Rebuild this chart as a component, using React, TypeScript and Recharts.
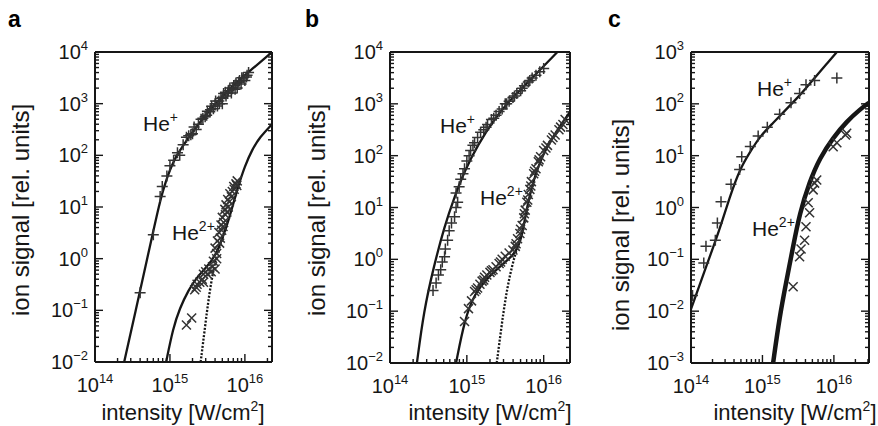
import { ComposedChart, Line, Scatter, XAxis, YAxis } from "recharts";

const FONT = '"Liberation Sans", Arial, Helvetica, sans-serif';
const INK = "#161616";
const MARK = "#333333";

// axis decades
const X_TICKS = [1e14, 1e15, 1e16];
const Y_TICKS_AB = [1e-2, 1e-1, 1e0, 1e1, 1e2, 1e3, 1e4];
const Y_TICKS_C = [1e-3, 1e-2, 1e-1, 1e0, 1e1, 1e2, 1e3];

// ---------- panel a ----------
const A_HE1_FIT_I = [2.45e14, 3.55e14, 5.0e14, 6.3e14, 7.08e14, 7.94e14, 8.91e14, 1.0e15, 1.12e15, 1.26e15, 1.66e15, 2.45e15, 3.63e15, 6.6e15, 1.2e16, 2.3e16];
const A_HE1_FIT_S = [0.01, 0.11, 1.05, 4.7, 10, 19, 33, 52, 76, 105, 195, 417, 850, 2090, 4470, 10000];
const A_HE2_FIT_I = [8.9e14, 1.1e15, 1.35e15, 1.78e15, 2.24e15, 3.16e15, 4.0e15, 5.0e15, 6.3e15, 7.9e15, 1.0e16, 1.26e16, 1.58e16, 2.3e16];
const A_HE2_FIT_S = [0.01, 0.045, 0.11, 0.25, 0.42, 0.71, 1.12, 2.4, 6.6, 22, 63, 132, 224, 400];
const A_HE2_SEQ_I = [2.57e15, 2.95e15, 3.3e15, 3.8e15, 4.4e15, 5.0e15, 5.6e15];
const A_HE2_SEQ_S = [0.01, 0.05, 0.18, 0.63, 1.4, 2.4, 4.5];
const A_HE1_DATA_I = [4.0e14, 6.0e14, 7.4e14, 7.9e14, 9.1e14, 1.0e15, 1.12e15, 1.26e15, 1.35e15, 1.5e15, 1.66e15, 1.9e15, 2.1e15, 2.4e15, 2.6e15, 2.95e15, 3.16e15, 3.4e15, 3.6e15, 3.8e15, 4.0e15, 4.3e15, 4.5e15, 4.8e15, 5.0e15, 5.2e15, 5.6e15, 6.0e15, 6.3e15, 6.6e15, 7.1e15, 7.6e15, 7.9e15, 8.5e15, 9.1e15, 1.0e16, 1.07e16, 1.12e16, 1.78e15, 2.0e15, 2.24e15, 2.75e15, 3.09e15, 3.47e15, 4.07e15, 4.57e15, 5.0e15, 5.5e15, 5.9e15, 6.9e15, 7.4e15, 8.3e15, 8.9e15, 9.5e15, 1.05e16];
const A_HE1_DATA_S = [0.22, 2.9, 16, 25, 40, 63, 80, 112, 100, 160, 224, 250, 355, 400, 500, 560, 710, 700, 890, 800, 1000, 900, 1120, 1260, 1000, 1580, 1400, 1780, 2000, 1600, 2240, 2500, 2000, 2800, 3160, 2800, 3550, 4000, 240, 263, 316, 525, 600, 760, 1120, 1000, 1320, 1660, 1580, 2000, 1900, 2630, 2400, 3160, 3300];
const A_HE2_DATA_I = [1.66e15, 1.95e15, 2.14e15, 2.3e15, 2.5e15, 2.7e15, 2.8e15, 3.0e15, 3.16e15, 3.3e15, 3.55e15, 3.7e15, 4.0e15, 4.2e15, 4.0e15, 4.3e15, 4.5e15, 4.7e15, 4.8e15, 5.0e15, 5.2e15, 5.4e15, 5.6e15, 5.9e15, 6.0e15, 6.3e15, 6.8e15, 7.1e15, 7.6e15, 7.9e15, 3.8e15, 4.2e15, 4.6e15, 4.9e15, 5.1e15, 5.5e15, 5.75e15, 6.2e15, 6.6e15, 7.2e15, 7.8e15, 2.8e15, 2.24e15];
const A_HE2_DATA_S = [0.052, 0.071, 0.25, 0.32, 0.35, 0.4, 0.5, 0.56, 0.5, 0.63, 0.56, 0.7, 0.63, 1.0, 1.6, 2.2, 3.2, 2.5, 4.5, 6.3, 5.0, 9, 11, 14, 10, 18, 20, 25, 28, 32, 0.89, 1.26, 2.0, 3.55, 4.2, 7.1, 8, 12.6, 15.8, 22, 26, 0.35, 0.28];

// ---------- panel b ----------
const B_HE1_FIT_I = [2.24e14, 2.75e14, 3.7e14, 5.1e14, 6.9e14, 9.3e14, 1.38e15, 2.3e15, 3.55e15, 5.6e15, 8.9e15, 1.51e16];
const B_HE1_FIT_S = [0.01, 0.1, 0.71, 4.3, 16, 50, 158, 525, 1120, 2240, 4470, 10000];
const B_HE2_FIT_I = [7.24e14, 9.33e14, 1.26e15, 1.9e15, 3.16e15, 3.98e15, 4.68e15, 5.25e15, 5.75e15, 6.92e15, 9.33e15, 1.41e16, 2.2e16];
const B_HE2_FIT_S = [0.01, 0.068, 0.22, 0.46, 0.89, 1.2, 1.74, 3.0, 6.6, 25, 95, 275, 700];
const B_HE2_SEQ_I = [2.45e15, 2.82e15, 3.16e15, 3.63e15, 4.17e15, 4.79e15, 5.5e15];
const B_HE2_SEQ_S = [0.01, 0.05, 0.166, 0.5, 1.12, 2.24, 5.0];
const B_HE1_DATA_I = [3.63e14, 3.98e14, 4.27e14, 4.57e14, 4.79e14, 5.13e14, 5.25e14, 5.62e14, 5.89e14, 6.31e14, 6.92e14, 7.24e14, 7.59e14, 7.24e14, 7.94e14, 8.32e14, 8.91e14, 9.33e14, 1.0e15, 1.07e15, 1.12e15, 1.2e15, 1.26e15, 1.38e15, 1.51e15, 1.66e15, 1.86e15, 2.09e15, 2.4e15, 2.63e15, 2.88e15, 3.16e15, 3.55e15, 3.98e15, 4.47e15, 5.01e15, 5.62e15, 6.31e15, 7.08e15, 7.94e15, 1.78e15, 2.24e15, 3.3e15, 4.17e15, 5.25e15, 6.6e15, 8.9e15, 1.0e16];
const B_HE1_DATA_S = [0.25, 0.35, 0.5, 0.63, 0.89, 1.12, 1.58, 2.34, 3.55, 5.0, 6.6, 10, 12.6, 19, 25, 35, 45, 56, 79, 100, 126, 158, 178, 224, 282, 316, 398, 501, 603, 708, 794, 1000, 1120, 1320, 1580, 1780, 2240, 2630, 3160, 3550, 355, 525, 1000, 1410, 2000, 2820, 4170, 4790];
const B_HE2_DATA_I = [9.33e14, 1.05e15, 1.15e15, 1.26e15, 1.38e15, 1.48e15, 1.58e15, 1.7e15, 1.82e15, 2.0e15, 2.19e15, 2.4e15, 2.63e15, 2.88e15, 3.16e15, 3.55e15, 3.98e15, 4.27e15, 4.57e15, 4.9e15, 5.25e15, 5.5e15, 5.75e15, 6.03e15, 6.31e15, 6.61e15, 6.92e15, 7.41e15, 7.94e15, 8.51e15, 9.12e15, 1.0e16, 1.12e16, 1.26e16, 1.41e16, 1.58e16, 1.78e16, 4.37e15, 5.0e15, 5.6e15, 6.2e15, 6.8e15, 7.6e15, 8.7e15, 1.07e16, 1.32e16, 1.66e16, 1.9e16, 1.32e15, 1.66e15, 2.09e15, 2.75e15];
const B_HE2_DATA_S = [0.063, 0.112, 0.158, 0.24, 0.28, 0.33, 0.38, 0.45, 0.5, 0.56, 0.63, 0.72, 0.83, 1.0, 1.15, 1.32, 1.51, 1.78, 2.5, 3.16, 4.5, 6.3, 8.9, 12.6, 17.8, 22.4, 31.6, 44.7, 56, 76, 95, 126, 158, 200, 251, 316, 398, 2.0, 3.8, 7.6, 14, 26, 50, 83, 141, 224, 355, 500, 0.26, 0.4, 0.6, 0.89];

// ---------- panel c ----------
const C_HE1_FIT_I = [1.0e14, 1.62e14, 2.51e14, 3.47e14, 4.79e14, 6.76e14, 9.33e14, 1.41e15, 2.0e15, 3.02e15, 4.17e15, 5.75e15, 7.94e15, 1.1e16];
const C_HE1_FIT_S = [0.011, 0.071, 0.37, 1.58, 5.4, 12, 24, 42.7, 70.8, 126, 209, 355, 589, 1000];
const C_HE2_FIT_I = [1.41e15, 1.74e15, 2.14e15, 2.69e15, 3.31e15, 4.57e15, 6.31e15, 9.77e15, 1.51e16, 2.34e16, 3.1e16];
const C_HE2_FIT_S = [0.001, 0.0079, 0.035, 0.178, 0.76, 3.16, 8.9, 22.4, 45.7, 79, 105];
const C_HE1_DATA_I = [1.05e14, 1.51e14, 1.62e14, 2.19e14, 2.34e14, 2.63e14, 3.63e14, 4.79e14, 5.13e14, 6.76e14, 8.71e14, 1.17e15, 1.74e15, 2.51e15, 3.31e15, 4.07e15, 5.37e15, 1.1e16];
const C_HE1_DATA_S = [0.02, 0.085, 0.178, 0.234, 0.5, 1.29, 2.82, 5.4, 9.5, 15.1, 24, 35.5, 63, 105, 158, 234, 282, 316];
const C_HE2_DATA_I = [2.69e15, 3.31e15, 3.47e15, 3.89e15, 4.07e15, 4.37e15, 4.57e15, 5.13e15, 5.37e15, 5.75e15, 9.77e15, 1.1e16, 1.45e16, 1.51e16];
const C_HE2_DATA_S = [0.0295, 0.112, 0.158, 0.234, 0.427, 1.23, 0.79, 2.19, 2.95, 3.39, 14.8, 17.8, 25, 27];

const zip = (i: number[], s: number[]) => i.map((v, k) => ({ i: v, s: s[k] }));

const isMajor = (v: number) => Math.abs(Math.log10(v) - Math.round(Math.log10(v))) < 1e-6;
const expText = (v: number) => {
  const e = Math.round(Math.log10(v));
  return e < 0 ? "\u2212" + -e : String(e);
};

// decade ticks plus the 2..9 minor ticks that fall inside the domain
const withMinors = (majors: number[], lo: number, hi: number) => {
  const out: number[] = [];
  const first = majors[0] / 10;
  [first, ...majors].forEach((m) => {
    for (let k = 1; k < 10; k++) {
      const v = m * k;
      if (v >= lo * 0.999 && v <= hi * 1.001) out.push(v);
    }
  });
  return out;
};

const LeftTick = (p: any) => {
  const { x, y, payload } = p;
  const major = isMajor(payload.value);
  return (
    <g>
      <line x1={x} x2={x + (major ? 8 : 4)} y1={y} y2={y} stroke={INK} strokeWidth={1.4} />
      {major && (
        <text x={x - 7} y={y + 7} textAnchor="end" fontSize={20} fill={INK} fontFamily={FONT}>
          10
          <tspan dy={-9} fontSize={13}>
            {expText(payload.value)}
          </tspan>
        </text>
      )}
    </g>
  );
};

const RightTick = (p: any) => {
  const { x, y, payload } = p;
  const major = isMajor(payload.value);
  return <line x1={x} x2={x - (major ? 8 : 4)} y1={y} y2={y} stroke={INK} strokeWidth={1.4} />;
};

const BottomTick = (p: any) => {
  const { x, y, payload } = p;
  const major = isMajor(payload.value);
  return (
    <g>
      <line x1={x} x2={x} y1={y} y2={y - (major ? 8 : 4)} stroke={INK} strokeWidth={1.4} />
      {major && (
        <text x={x} y={y + 30} textAnchor="middle" fontSize={20} fill={INK} fontFamily={FONT}>
          10
          <tspan dy={-9} fontSize={13}>
            {expText(payload.value)}
          </tspan>
        </text>
      )}
    </g>
  );
};

const TopTick = (p: any) => {
  const { x, y, payload } = p;
  const major = isMajor(payload.value);
  return <line x1={x} x2={x} y1={y} y2={y + (major ? 8 : 4)} stroke={INK} strokeWidth={1.4} />;
};

const PlusMark = (p: any) => (
  <path d={`M${p.cx - 5.5},${p.cy}h11M${p.cx},${p.cy - 5.5}v11`} stroke={MARK} strokeWidth={1.5} fill="none" />
);
const CrossMark = (p: any) => (
  <path d={`M${p.cx - 4.5},${p.cy - 4.5}l9,9M${p.cx - 4.5},${p.cy + 4.5}l9,-9`} stroke={MARK} strokeWidth={1.5} fill="none" />
);

type Fit = { data: { i: number; s: number }[]; dotted?: boolean; width?: number };

type PanelProps = {
  left: number;
  width: number;
  box: { x0: number; x1: number; y0: number; y1: number };
  xDomain: [number, number];
  yDomain: [number, number];
  yTicks: number[];
  fits: Fit[];
  plus: { i: number; s: number }[];
  cross: { i: number; s: number }[];
};

function Panel({ left, width, box, xDomain, yDomain, yTicks, fits, plus, cross }: PanelProps) {
  const xt = withMinors(X_TICKS, xDomain[0], xDomain[1]);
  const yt = withMinors(yTicks, yDomain[0], yDomain[1]);
  const axisLine = { stroke: INK, strokeWidth: 2 };
  // axes are 1px thick (a 0px axis is not drawn), so the margins give way by 1px
  const margin = {
    top: box.y0 - 1,
    bottom: 426 - box.y1 - 1,
    left: box.x0 - left - 1,
    right: left + width - box.x1 - 1,
  };
  return (
    <div style={{ position: "absolute", left, top: 0, width, height: 426 }}>
      <ComposedChart width={width} height={426} margin={margin}>
        <XAxis
          xAxisId="b"
          dataKey="i"
          type="number"
          scale="log"
          domain={xDomain}
          allowDataOverflow
          ticks={xt}
          interval={0}
          height={1}
          tickSize={0}
          tickMargin={0}
          tickLine={false}
          axisLine={axisLine}
          tick={BottomTick}
        />
        <XAxis
          xAxisId="t"
          orientation="top"
          type="number"
          scale="log"
          domain={xDomain}
          allowDataOverflow
          ticks={xt}
          interval={0}
          height={1}
          tickSize={0}
          tickMargin={0}
          tickLine={false}
          axisLine={axisLine}
          tick={TopTick}
        />
        <YAxis
          yAxisId="l"
          dataKey="s"
          type="number"
          scale="log"
          domain={yDomain}
          allowDataOverflow
          ticks={yt}
          interval={0}
          width={1}
          tickSize={0}
          tickMargin={0}
          tickLine={false}
          axisLine={axisLine}
          tick={LeftTick}
        />
        <YAxis
          yAxisId="r"
          orientation="right"
          type="number"
          scale="log"
          domain={yDomain}
          allowDataOverflow
          ticks={yt}
          interval={0}
          width={1}
          tickSize={0}
          tickMargin={0}
          tickLine={false}
          axisLine={axisLine}
          tick={RightTick}
        />
        <Scatter xAxisId="b" yAxisId="l" data={plus} shape={PlusMark} isAnimationActive={false} />
        <Scatter xAxisId="b" yAxisId="l" data={cross} shape={CrossMark} isAnimationActive={false} />
        {fits.map((f, k) => (
          <Line
            key={k}
            xAxisId="b"
            yAxisId="l"
            data={f.data}
            dataKey="s"
            type="basis"
            dot={false}
            stroke={INK}
            strokeWidth={f.width ?? 2.3}
            strokeDasharray={f.dotted ? "2 1.6" : undefined}
            isAnimationActive={false}
          />
        ))}
      </ComposedChart>
    </div>
  );
}

const Sup = ({ x, y, base, sup, size = 21 }: { x: number; y: number; base: string; sup: string; size?: number }) => (
  <text x={x} y={y} fontSize={size} fill={INK} fontFamily={FONT}>
    {base}
    <tspan dy={-9} fontSize={Math.round(size * 0.65)}>
      {sup}
    </tspan>
  </text>
);

export default function App() {
  const letters = [
    { t: "a", x: 8 },
    { t: "b", x: 305 },
    { t: "c", x: 608 },
  ];
  const yLabels = [
    { x: 21, y: 210 },
    { x: 317, y: 210 },
    { x: 621, y: 225 },
  ];
  const xLabels = [183, 490, 795];
  return (
    <div style={{ position: "absolute", left: 0, top: 0, width: 878, height: 426, background: "#fff" }}>
      <Panel
        left={0}
        width={290}
        box={{ x0: 95, x1: 272, y0: 52, y1: 362 }}
        xDomain={[1e14, 2.3e16]}
        yDomain={[1e-2, 1e4]}
        yTicks={Y_TICKS_AB}
        fits={[
          { data: zip(A_HE1_FIT_I, A_HE1_FIT_S) },
          { data: zip(A_HE2_FIT_I, A_HE2_FIT_S) },
          { data: zip(A_HE2_SEQ_I, A_HE2_SEQ_S), dotted: true },
        ]}
        plus={zip(A_HE1_DATA_I, A_HE1_DATA_S)}
        cross={zip(A_HE2_DATA_I, A_HE2_DATA_S)}
      />
      <Panel
        left={293}
        width={290}
        box={{ x0: 390, x1: 570, y0: 52, y1: 363 }}
        xDomain={[1e14, 2.2e16]}
        yDomain={[1e-2, 1e4]}
        yTicks={Y_TICKS_AB}
        fits={[
          { data: zip(B_HE1_FIT_I, B_HE1_FIT_S) },
          { data: zip(B_HE2_FIT_I, B_HE2_FIT_S) },
          { data: zip(B_HE2_SEQ_I, B_HE2_SEQ_S), dotted: true },
        ]}
        plus={zip(B_HE1_DATA_I, B_HE1_DATA_S)}
        cross={zip(B_HE2_DATA_I, B_HE2_DATA_S)}
      />
      <Panel
        left={586}
        width={292}
        box={{ x0: 691, x1: 869, y0: 52, y1: 363 }}
        xDomain={[1e14, 3.1e16]}
        yDomain={[1e-3, 1e3]}
        yTicks={Y_TICKS_C}
        fits={[
          { data: zip(C_HE1_FIT_I, C_HE1_FIT_S) },
          { data: zip(C_HE2_FIT_I, C_HE2_FIT_S), width: 4.5 },
        ]}
        plus={zip(C_HE1_DATA_I, C_HE1_DATA_S)}
        cross={zip(C_HE2_DATA_I, C_HE2_DATA_S)}
      />
      <svg width={878} height={426} style={{ position: "absolute", left: 0, top: 0, pointerEvents: "none" }}>
        {letters.map((l) => (
          <text key={l.t} x={l.x} y={27} fontSize={23} fontWeight="bold" fill="#000" fontFamily={FONT}>
            {l.t}
          </text>
        ))}
        {yLabels.map((p, k) => (
          <text
            key={k}
            transform={`translate(${p.x + 8}, ${p.y}) rotate(-90)`}
            textAnchor="middle"
            fontSize={24}
            fill={INK}
            fontFamily={FONT}
          >
            ion signal [rel. units]
          </text>
        ))}
        {xLabels.map((cx, k) => (
          <text key={k} x={cx} y={420} textAnchor="middle" fontSize={22} fill={INK} fontFamily={FONT}>
            intensity [W/cm
            <tspan dy={-9} fontSize={14}>
              2
            </tspan>
            <tspan dy={9}>]</tspan>
          </text>
        ))}
        <Sup x={143} y={131} base="He" sup="+" />
        <Sup x={172} y={240} base="He" sup="2+" />
        <Sup x={440} y={133} base="He" sup="+" />
        <Sup x={480} y={205} base="He" sup="2+" />
        <Sup x={757} y={96} base="He" sup="+" />
        <Sup x={752} y={236} base="He" sup="2+" />
      </svg>
    </div>
  );
}
